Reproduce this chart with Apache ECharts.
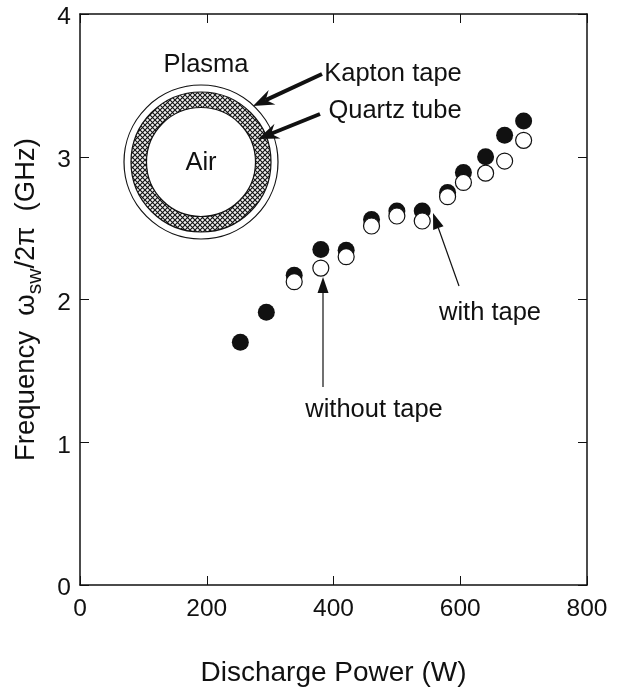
<!DOCTYPE html>
<html>
<head>
<meta charset="utf-8">
<style>
  html, body { margin: 0; padding: 0; background: #fff; }
  #chart { width: 618px; height: 689px; }
</style>
<script src="https://cdn.jsdelivr.net/npm/echarts@6/dist/echarts.min.js"></script>
</head>
<body>
<div id="chart"></div>
<script>
var withTape = [
  [253, 1.70], [294, 1.91], [338, 2.17], [380, 2.35], [420, 2.345], [460, 2.56],
  [500, 2.62], [540, 2.62], [580, 2.75], [605, 2.89], [640, 3.0], [670, 3.15], [700, 3.25]
];
var withoutTape = [
  [338, 2.125], [380, 2.22], [420, 2.3], [460, 2.515], [500, 2.585], [540, 2.55],
  [580, 2.72], [605, 2.82], [640, 2.885], [670, 2.97], [700, 3.115]
];
var xTicks = [0, 200, 400, 600, 800];
var yTicks = [0, 1, 2, 3, 4];

var font = '"Liberation Sans", Arial, sans-serif';
var ink = '#111';

function hatch() {
  var c = document.createElement('canvas');
  c.width = 5; c.height = 5;
  var g = c.getContext('2d');
  g.fillStyle = '#f0f0f0';
  g.fillRect(0, 0, 5, 5);
  g.strokeStyle = '#111';
  g.lineWidth = 1.1;
  g.beginPath();
  g.moveTo(0, 0); g.lineTo(5, 5);
  g.moveTo(5, 0); g.lineTo(0, 5);
  g.stroke();
  return c;
}

// head is the length, notch sets how far the back of the head is swept in
function arrowShapes(x1, y1, x2, y2, w, head, headW, notch) {
  var dx = x2 - x1, dy = y2 - y1, len = Math.sqrt(dx * dx + dy * dy);
  var ux = dx / len, uy = dy / len;
  var bx = x2 - ux * head, by = y2 - uy * head;
  var nx = x2 - ux * notch, ny = y2 - uy * notch;
  return [
    { type: 'line', z: 20, shape: { x1: x1, y1: y1, x2: nx, y2: ny }, style: { stroke: ink, lineWidth: w } },
    { type: 'polygon', z: 20, shape: { points: [
      [x2, y2],
      [bx - uy * headW, by + ux * headW],
      [nx, ny],
      [bx + uy * headW, by - ux * headW]
    ] }, style: { fill: ink } }
  ];
}

function label(text, x, y) {
  return { type: 'text', z: 20, x: x, y: y, style: { text: text, font: '25.5px ' + font, fill: ink, textAlign: 'center', textVerticalAlign: 'middle' } };
}

var chart = echarts.init(document.getElementById('chart'));
var center = [201, 162];
var ringShapes = [
  { type: 'circle', z: 10, shape: { cx: center[0], cy: center[1], r: 77 }, style: { fill: '#fff', stroke: ink, lineWidth: 1.2 } },
  { type: 'ring', z: 11, shape: { cx: center[0], cy: center[1], r: 70, r0: 54.5 }, style: { fill: { image: hatch(), repeat: 'repeat' } } },
  { type: 'circle', z: 12, shape: { cx: center[0], cy: center[1], r: 70 }, style: { fill: 'none', stroke: ink, lineWidth: 1.2 } },
  { type: 'circle', z: 12, shape: { cx: center[0], cy: center[1], r: 54.5 }, style: { fill: '#fff', stroke: ink, lineWidth: 1.2 } }
];
var arrows = []
  .concat(arrowShapes(322, 74, 253, 106, 4, 21, 8, 14))
  .concat(arrowShapes(320, 114, 258, 139, 4, 21, 8, 14))
  .concat(arrowShapes(323, 387, 323, 277, 1.2, 16, 5.5, 16))
  .concat(arrowShapes(459, 286, 433, 213, 1.2, 16, 5.5, 16));

var axisLine = { show: true, onZero: false, lineStyle: { color: ink, width: 1.5 } };
var axisTick = { show: true, inside: true, length: 9, lineStyle: { color: ink, width: 1 } };

chart.setOption({
  animation: false,
  backgroundColor: '#fff',
  textStyle: { fontFamily: font, color: ink },
  grid: { left: 80, right: 31, top: 14, bottom: 104, show: false, outerBoundsMode: 'none' },
  xAxis: [{
    type: 'value', min: 0, max: 800, interval: 200,
    axisLine: axisLine,
    axisTick: axisTick,
    axisLabel: { fontSize: 24.5, color: ink, margin: 12, fontFamily: font, showMinLabel: true, showMaxLabel: true,
      formatter: function (v) { return xTicks.indexOf(v) >= 0 ? String(v) : ''; } },
    splitLine: { show: false },
    name: 'Discharge Power (W)', nameLocation: 'middle', nameGap: 74,
    nameTextStyle: { fontSize: 28, color: ink, fontFamily: font }
  }, {
    type: 'value', position: 'top', min: 0, max: 800, interval: 200,
    axisLine: axisLine,
    axisTick: axisTick,
    axisLabel: { show: false },
    splitLine: { show: false }
  }],
  yAxis: [{
    type: 'value', min: 0, max: 4, interval: 1,
    axisLine: axisLine,
    axisTick: axisTick,
    axisLabel: { color: ink, margin: 9, fontFamily: font, showMinLabel: true, showMaxLabel: true,
      // the printed digits sit a little below their ticks
      formatter: function (v) { return yTicks.indexOf(v) >= 0 ? '{v|' + v + '}' : ''; },
      rich: { v: { fontSize: 24.5, color: ink, fontFamily: font, verticalAlign: 'bottom', padding: [7, 0, 0, 0] } } },
    splitLine: { show: false },
    name: '{n|Frequency  \u03c9}{s|sw}{n|/2\u03c0  (GHz)}', nameLocation: 'middle', nameGap: 34,
    nameTextStyle: {
      rich: {
        n: { fontSize: 27.5, color: ink, fontFamily: font },
        s: { fontSize: 21, color: ink, fontFamily: font, verticalAlign: 'bottom', padding: [18, 0, 0, 0] }
      }
    }
  }, {
    type: 'value', position: 'right', min: 0, max: 4, interval: 1,
    axisLine: axisLine,
    axisTick: axisTick,
    axisLabel: { show: false },
    splitLine: { show: false }
  }],
  series: [
    { name: 'with tape', type: 'scatter', data: withTape, symbol: 'circle', symbolSize: 17, z: 3,
      itemStyle: { color: '#111', opacity: 1 } },
    { name: 'without tape', type: 'scatter', data: withoutTape, symbol: 'circle', symbolSize: 16, z: 4,
      itemStyle: { color: '#fff', borderColor: '#111', borderWidth: 1.2, opacity: 1 } }
  ],
  graphic: ringShapes.concat(arrows).concat([
    label('Plasma', 206, 65),
    label('Air', 201, 163),
    label('Kapton tape', 393, 74),
    label('Quartz tube', 395, 111),
    label('with tape', 490, 313),
    label('without tape', 374, 410)
  ])
});
</script>
</body>
</html>
